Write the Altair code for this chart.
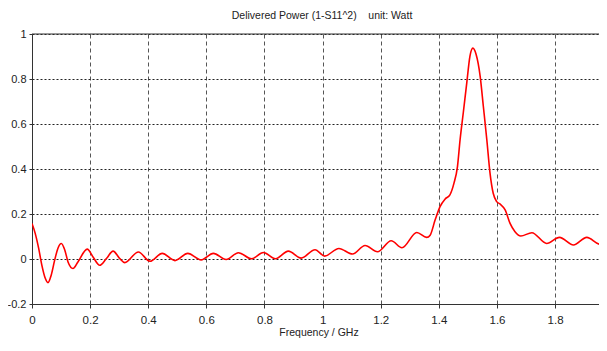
import altair as alt
import pandas as pd

FREQ_GHZ = [0.0, 0.011, 0.023, 0.034, 0.046, 0.055, 0.066, 0.078, 0.089, 0.101,
            0.113, 0.124, 0.141, 0.158, 0.190, 0.210, 0.233, 0.256, 0.279, 0.302,
            0.319, 0.366, 0.406, 0.448, 0.492, 0.536, 0.582, 0.624, 0.668, 0.710,
            0.756, 0.796, 0.838, 0.882, 0.926, 0.974, 1.007, 1.056, 1.103, 1.146,
            1.189, 1.236, 1.273, 1.324, 1.358, 1.370, 1.387, 1.404, 1.421, 1.438,
            1.452, 1.464, 1.473, 1.484, 1.496, 1.507, 1.517, 1.528, 1.542, 1.553,
            1.565, 1.576, 1.587, 1.599, 1.610, 1.628, 1.645, 1.662, 1.682, 1.720,
            1.771, 1.815, 1.863, 1.909, 1.955, 1.979]
POWER_W = [0.158, 0.114, 0.047, -0.028, -0.087, -0.105, -0.072, -0.005, 0.047, 0.069,
           0.039, -0.013, -0.042, -0.013, 0.044, 0.009, -0.028, 0.002, 0.035, 0.002,
           -0.016, 0.031, -0.010, 0.025, -0.007, 0.025, -0.004, 0.025, -0.002, 0.028,
           0.001, 0.029, 0.001, 0.035, 0.004, 0.041, 0.013, 0.047, 0.022, 0.060,
           0.032, 0.081, 0.050, 0.118, 0.096, 0.106, 0.173, 0.233, 0.266, 0.285,
           0.337, 0.411, 0.530, 0.650, 0.783, 0.902, 0.937, 0.910, 0.813, 0.679,
           0.530, 0.382, 0.292, 0.255, 0.245, 0.218, 0.158, 0.121, 0.102, 0.117,
           0.069, 0.096, 0.062, 0.096, 0.065, 0.084]

X_TICKS = [0, 0.2, 0.4, 0.6, 0.8, 1.0, 1.2, 1.4, 1.6, 1.8]
Y_TICKS = [-0.2, 0, 0.2, 0.4, 0.6, 0.8, 1.0]
X_DOMAIN = [0, 1.951]
Y_DOMAIN = [-0.2, 1.0]

TITLE = "Delivered Power (1-S11^2)\u00a0\u00a0\u00a0 unit: Watt"
X_TITLE = "Frequency / GHz"

FONT = "Liberation Sans Narrow, Liberation Sans, sans-serif"

df = pd.DataFrame({"f": FREQ_GHZ, "p": POWER_W})

x_enc = alt.X(
    "f:Q",
    scale=alt.Scale(domain=X_DOMAIN, nice=False, zero=False),
    axis=alt.Axis(
        values=X_TICKS, format="~g", title=None, labelFlush=False,
        labelFont=FONT, labelFontSize=11.5, labelColor="#222",
        tickSize=4, tickColor="#333", labelPadding=6,
        domainColor="#333", gridColor="#555", gridDash=[4, 3], gridOpacity=1,
        labelOverlap=False,
    ),
)
y_enc = alt.Y(
    "p:Q",
    scale=alt.Scale(domain=Y_DOMAIN, nice=False, zero=False),
    axis=alt.Axis(
        values=Y_TICKS, title=None, labelFlush=False,
        labelExpr="datum.value < 0 ? '-' + format(-datum.value, '~g') : format(datum.value, '~g')",
        labelFont=FONT, labelFontSize=11, labelColor="#222",
        tickSize=3, tickColor="#333", labelPadding=3,
        domainColor="#333", gridColor="#222", gridDash=[2, 2], gridOpacity=1,
        labelOverlap=False,
    ),
)

line = alt.Chart(df).mark_line(
    color="#ff0000", strokeWidth=1.6, interpolate="monotone", clip=True
).encode(x=x_enc, y=y_enc)

top_df = pd.DataFrame({"v": [1.0]})
top_rule = alt.Chart(top_df).mark_rule(color="#333", strokeWidth=1).encode(
    y=alt.Y("v:Q", scale=alt.Scale(domain=Y_DOMAIN, nice=False))
)

title_df = pd.DataFrame({"t": [TITLE]})
title_mark = alt.Chart(title_df).mark_text(
    font=FONT, fontSize=10.5, color="#222", align="center", baseline="middle"
).encode(x=alt.value(290), y=alt.value(-18), text="t:N")

xt_df = pd.DataFrame({"t": [X_TITLE]})
xtitle_mark = alt.Chart(xt_df).mark_text(
    font=FONT, fontSize=10.5, color="#222", align="center", baseline="middle"
).encode(x=alt.value(287), y=alt.value(298.5), text="t:N")

chart = alt.layer(line, top_rule, title_mark, xtitle_mark).properties(
    width=567,
    height=270,
    padding={"left": 24, "top": 26, "right": 0, "bottom": 34},
    autosize=alt.AutoSizeParams(type="none"),
    background="white",
).configure_view(stroke=None)

chart.save("out.html", embed_options={"renderer": "svg", "actions": False})
